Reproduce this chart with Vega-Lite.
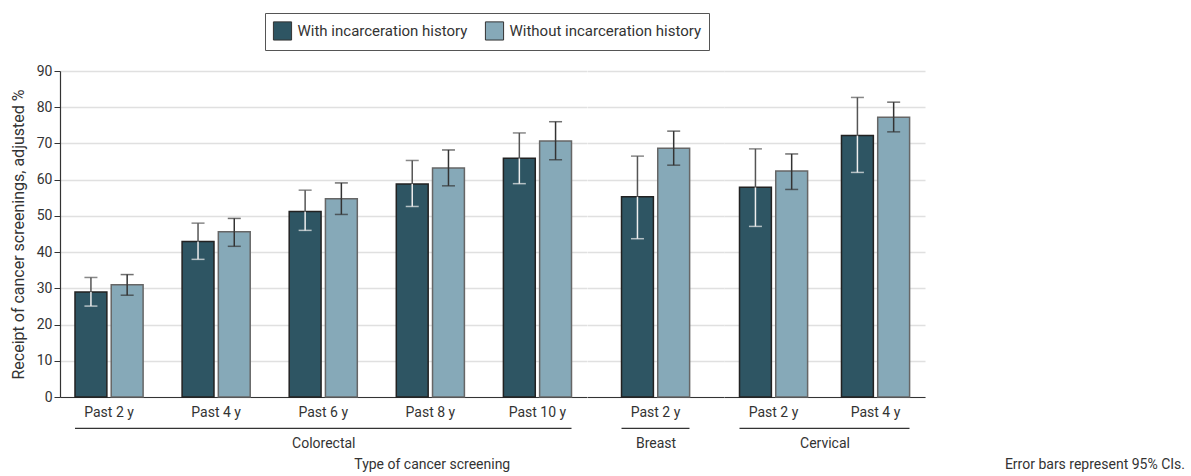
{
  "$schema": "https://vega.github.io/schema/vega-lite/v6.json",
  "padding": {"left": 10, "top": 12, "right": 5, "bottom": 5},
  "datasets": {
    "screen": [
      {"screening": "Colorectal", "period": "Past 2 y", "group": "With incarceration history", "value": 29.0, "lo": 25.1, "hi": 33.0},
      {"screening": "Colorectal", "period": "Past 2 y", "group": "Without incarceration history", "value": 31.0, "lo": 28.1, "hi": 33.8},
      {"screening": "Colorectal", "period": "Past 4 y", "group": "With incarceration history", "value": 42.9, "lo": 38.0, "hi": 48.0},
      {"screening": "Colorectal", "period": "Past 4 y", "group": "Without incarceration history", "value": 45.6, "lo": 41.6, "hi": 49.3},
      {"screening": "Colorectal", "period": "Past 6  y", "group": "With incarceration history", "value": 51.2, "lo": 46.0, "hi": 57.1},
      {"screening": "Colorectal", "period": "Past 6  y", "group": "Without incarceration history", "value": 54.7, "lo": 50.4, "hi": 59.1},
      {"screening": "Colorectal", "period": "Past 8  y", "group": "With incarceration history", "value": 58.8, "lo": 52.6, "hi": 65.3},
      {"screening": "Colorectal", "period": "Past 8  y", "group": "Without incarceration history", "value": 63.2, "lo": 58.3, "hi": 68.2},
      {"screening": "Colorectal", "period": "Past 10 y", "group": "With incarceration history", "value": 65.9, "lo": 58.9, "hi": 72.9},
      {"screening": "Colorectal", "period": "Past 10 y", "group": "Without incarceration history", "value": 70.7, "lo": 65.5, "hi": 76.0},
      {"screening": "Breast", "period": "Past 2 y", "group": "With incarceration history", "value": 55.3, "lo": 43.7, "hi": 66.5},
      {"screening": "Breast", "period": "Past 2 y", "group": "Without incarceration history", "value": 68.7, "lo": 64.0, "hi": 73.4},
      {"screening": "Cervical", "period": "Past 2 y", "group": "With incarceration history", "value": 57.9, "lo": 47.1, "hi": 68.5},
      {"screening": "Cervical", "period": "Past 2 y", "group": "Without incarceration history", "value": 62.4, "lo": 57.3, "hi": 67.1},
      {"screening": "Cervical", "period": "Past 4 y", "group": "With incarceration history", "value": 72.2, "lo": 62.0, "hi": 82.7},
      {"screening": "Cervical", "period": "Past 4 y", "group": "Without incarceration history", "value": 77.2, "lo": 73.2, "hi": 81.4}
    ]
  },
  "data": {"name": "screen"},
  "spacing": 0,
  "bounds": "flush",
  "resolve": {"scale": {"color": "shared", "y": "shared"}},
  "hconcat": [
    {
      "width": 526.5,
      "height": 326,
      "title": {"text": "Type of cancer screening", "orient": "bottom", "anchor": "middle", "dx": 109, "offset": 8},
      "transform": [{"filter": "datum.screening === 'Colorectal'"}],
      "layer": [
        {
          "mark": {"type": "bar", "strokeWidth": 1.5},
          "encoding": {
            "x": {"field": "period", "type": "nominal", "sort": null, "title": "Colorectal", "scale": {"paddingInner": 0.364, "paddingOuter": 0.14}, "axis": {"labelAngle": 0, "ticks": false, "tickSize": 0, "labelPadding": 8, "titlePadding": 17}},
            "xOffset": {"field": "group", "type": "nominal", "scale": {"paddingInner": 0.12, "paddingOuter": 0}},
            "y": {"field": "value", "type": "quantitative", "title": "Receipt of cancer screenings, adjusted %", "scale": {"domain": [0, 90]}, "axis": {"values": [0, 10, 20, 30, 40, 50, 60, 70, 80, 90], "tickSize": 6, "labelPadding": 2, "titlePadding": 10, "titleFontSize": 16, "domain": true, "ticks": true, "grid": true}},
            "color": {"field": "group", "type": "nominal", "scale": {"domain": ["With incarceration history", "Without incarceration history"], "range": ["#2e5563", "#86a9b8"]}, "legend": {"title": null, "orient": "none", "legendX": 205, "legendY": -58, "direction": "horizontal"}},
            "stroke": {"condition": {"test": "datum.group === 'With incarceration history'", "value": "#222222"}, "value": "#666666"}
          }
        },
        {
          "mark": {"type": "rule", "strokeWidth": 1.5},
          "encoding": {
            "x": {"field": "period", "type": "nominal", "sort": null, "title": "Colorectal", "axis": {"labelAngle": 0, "ticks": false, "tickSize": 0, "labelPadding": 8, "titlePadding": 17}},
            "xOffset": {"field": "group", "type": "nominal"},
            "y": {"field": "lo", "type": "quantitative", "title": "Receipt of cancer screenings, adjusted %", "axis": {"values": [0, 10, 20, 30, 40, 50, 60, 70, 80, 90], "tickSize": 6, "labelPadding": 2, "titlePadding": 10, "titleFontSize": 16, "domain": true, "ticks": true, "grid": true}},
            "y2": {"field": "value"},
            "stroke": {"condition": {"test": "datum.group === 'With incarceration history'", "value": "#eeeeee"}, "value": "#333333"}
          }
        },
        {
          "mark": {"type": "rule", "strokeWidth": 1.5},
          "encoding": {
            "x": {"field": "period", "type": "nominal", "sort": null, "title": "Colorectal", "axis": {"labelAngle": 0, "ticks": false, "tickSize": 0, "labelPadding": 8, "titlePadding": 17}},
            "xOffset": {"field": "group", "type": "nominal"},
            "y": {"field": "value", "type": "quantitative", "title": "Receipt of cancer screenings, adjusted %", "axis": {"values": [0, 10, 20, 30, 40, 50, 60, 70, 80, 90], "tickSize": 6, "labelPadding": 2, "titlePadding": 10, "titleFontSize": 16, "domain": true, "ticks": true, "grid": true}},
            "y2": {"field": "hi"},
            "stroke": {"condition": {"test": "datum.group === 'With incarceration history'", "value": "#555555"}, "value": "#333333"}
          }
        },
        {
          "mark": {"type": "tick", "size": 13, "thickness": 1.5},
          "encoding": {
            "x": {"field": "period", "type": "nominal", "sort": null, "title": "Colorectal", "axis": {"labelAngle": 0, "ticks": false, "tickSize": 0, "labelPadding": 8, "titlePadding": 17}},
            "xOffset": {"field": "group", "type": "nominal"},
            "y": {"field": "lo", "type": "quantitative", "title": "Receipt of cancer screenings, adjusted %", "axis": {"values": [0, 10, 20, 30, 40, 50, 60, 70, 80, 90], "tickSize": 6, "labelPadding": 2, "titlePadding": 10, "titleFontSize": 16, "domain": true, "ticks": true, "grid": true}},
            "color": {"condition": {"test": "datum.group === 'With incarceration history'", "value": "#eeeeee"}, "value": "#333333"}
          }
        },
        {
          "mark": {"type": "tick", "size": 13, "thickness": 1.5},
          "encoding": {
            "x": {"field": "period", "type": "nominal", "sort": null, "title": "Colorectal", "axis": {"labelAngle": 0, "ticks": false, "tickSize": 0, "labelPadding": 8, "titlePadding": 17}},
            "xOffset": {"field": "group", "type": "nominal"},
            "y": {"field": "hi", "type": "quantitative", "title": "Receipt of cancer screenings, adjusted %", "axis": {"values": [0, 10, 20, 30, 40, 50, 60, 70, 80, 90], "tickSize": 6, "labelPadding": 2, "titlePadding": 10, "titleFontSize": 16, "domain": true, "ticks": true, "grid": true}},
            "color": {"condition": {"test": "datum.group === 'With incarceration history'", "value": "#555555"}, "value": "#333333"}
          }
        },
        {
          "transform": [{"aggregate": [{"op": "count", "as": "n"}]}],
          "mark": {"type": "rule", "stroke": "#333333", "strokeWidth": 1.2},
          "encoding": {
            "x": {"datum": "Past 2 y", "type": "nominal", "bandPosition": 0, "title": "Colorectal", "axis": {"labelAngle": 0, "ticks": false, "tickSize": 0, "labelPadding": 8, "titlePadding": 17}},
            "x2": {"datum": "Past 10 y", "bandPosition": 1},
            "y": {"datum": -8.64, "type": "quantitative", "title": "Receipt of cancer screenings, adjusted %", "axis": {"values": [0, 10, 20, 30, 40, 50, 60, 70, 80, 90], "tickSize": 6, "labelPadding": 2, "titlePadding": 10, "titleFontSize": 16, "domain": true, "ticks": true, "grid": true}}
          }
        }
      ]
    },
    {
      "width": 137,
      "height": 326,
      "transform": [{"filter": "datum.screening === 'Breast'"}],
      "layer": [
        {
          "mark": {"type": "bar", "strokeWidth": 1.5},
          "encoding": {
            "x": {"field": "period", "type": "nominal", "sort": null, "title": "Breast", "scale": {"paddingInner": 0.364, "paddingOuter": 0.323}, "axis": {"labelAngle": 0, "ticks": false, "tickSize": 0, "labelPadding": 8, "titlePadding": 17}},
            "xOffset": {"field": "group", "type": "nominal", "scale": {"paddingInner": 0.12, "paddingOuter": 0}},
            "y": {"field": "value", "type": "quantitative", "title": null, "scale": {"domain": [0, 90]}, "axis": {"values": [0, 10, 20, 30, 40, 50, 60, 70, 80, 90], "labels": false, "ticks": false, "domain": false, "grid": true}},
            "color": {"field": "group", "type": "nominal", "scale": {"domain": ["With incarceration history", "Without incarceration history"], "range": ["#2e5563", "#86a9b8"]}, "legend": {"title": null, "orient": "none", "legendX": 205, "legendY": -58, "direction": "horizontal"}},
            "stroke": {"condition": {"test": "datum.group === 'With incarceration history'", "value": "#222222"}, "value": "#666666"}
          }
        },
        {
          "mark": {"type": "rule", "strokeWidth": 1.5},
          "encoding": {
            "x": {"field": "period", "type": "nominal", "sort": null, "title": "Breast", "axis": {"labelAngle": 0, "ticks": false, "tickSize": 0, "labelPadding": 8, "titlePadding": 17}},
            "xOffset": {"field": "group", "type": "nominal"},
            "y": {"field": "lo", "type": "quantitative", "title": null, "axis": {"values": [0, 10, 20, 30, 40, 50, 60, 70, 80, 90], "labels": false, "ticks": false, "domain": false, "grid": true}},
            "y2": {"field": "value"},
            "stroke": {"condition": {"test": "datum.group === 'With incarceration history'", "value": "#eeeeee"}, "value": "#333333"}
          }
        },
        {
          "mark": {"type": "rule", "strokeWidth": 1.5},
          "encoding": {
            "x": {"field": "period", "type": "nominal", "sort": null, "title": "Breast", "axis": {"labelAngle": 0, "ticks": false, "tickSize": 0, "labelPadding": 8, "titlePadding": 17}},
            "xOffset": {"field": "group", "type": "nominal"},
            "y": {"field": "value", "type": "quantitative", "title": null, "axis": {"values": [0, 10, 20, 30, 40, 50, 60, 70, 80, 90], "labels": false, "ticks": false, "domain": false, "grid": true}},
            "y2": {"field": "hi"},
            "stroke": {"condition": {"test": "datum.group === 'With incarceration history'", "value": "#555555"}, "value": "#333333"}
          }
        },
        {
          "mark": {"type": "tick", "size": 13, "thickness": 1.5},
          "encoding": {
            "x": {"field": "period", "type": "nominal", "sort": null, "title": "Breast", "axis": {"labelAngle": 0, "ticks": false, "tickSize": 0, "labelPadding": 8, "titlePadding": 17}},
            "xOffset": {"field": "group", "type": "nominal"},
            "y": {"field": "lo", "type": "quantitative", "title": null, "axis": {"values": [0, 10, 20, 30, 40, 50, 60, 70, 80, 90], "labels": false, "ticks": false, "domain": false, "grid": true}},
            "color": {"condition": {"test": "datum.group === 'With incarceration history'", "value": "#eeeeee"}, "value": "#333333"}
          }
        },
        {
          "mark": {"type": "tick", "size": 13, "thickness": 1.5},
          "encoding": {
            "x": {"field": "period", "type": "nominal", "sort": null, "title": "Breast", "axis": {"labelAngle": 0, "ticks": false, "tickSize": 0, "labelPadding": 8, "titlePadding": 17}},
            "xOffset": {"field": "group", "type": "nominal"},
            "y": {"field": "hi", "type": "quantitative", "title": null, "axis": {"values": [0, 10, 20, 30, 40, 50, 60, 70, 80, 90], "labels": false, "ticks": false, "domain": false, "grid": true}},
            "color": {"condition": {"test": "datum.group === 'With incarceration history'", "value": "#555555"}, "value": "#333333"}
          }
        },
        {
          "transform": [{"aggregate": [{"op": "count", "as": "n"}]}],
          "mark": {"type": "rule", "stroke": "#333333", "strokeWidth": 1.2},
          "encoding": {
            "x": {"datum": "Past 2 y", "type": "nominal", "bandPosition": 0, "title": "Breast", "axis": {"labelAngle": 0, "ticks": false, "tickSize": 0, "labelPadding": 8, "titlePadding": 17}},
            "x2": {"datum": "Past 2 y", "bandPosition": 1},
            "y": {"datum": -8.64, "type": "quantitative", "title": null, "axis": {"values": [0, 10, 20, 30, 40, 50, 60, 70, 80, 90], "labels": false, "ticks": false, "domain": false, "grid": true}}
          }
        }
      ]
    },
    {
      "width": 201,
      "height": 326,
      "title": {"text": "Error bars represent 95% CIs.", "orient": "bottom", "anchor": "end", "dx": 260, "offset": 8},
      "transform": [{"filter": "datum.screening === 'Cervical'"}],
      "layer": [
        {
          "mark": {"type": "bar", "strokeWidth": 1.5},
          "encoding": {
            "x": {"field": "period", "type": "nominal", "sort": null, "title": "Cervical", "scale": {"paddingInner": 0.333, "paddingOuter": 0.152}, "axis": {"labelAngle": 0, "ticks": false, "tickSize": 0, "labelPadding": 8, "titlePadding": 17}},
            "xOffset": {"field": "group", "type": "nominal", "scale": {"paddingInner": 0.12, "paddingOuter": 0}},
            "y": {"field": "value", "type": "quantitative", "title": null, "scale": {"domain": [0, 90]}, "axis": {"values": [0, 10, 20, 30, 40, 50, 60, 70, 80, 90], "labels": false, "ticks": false, "domain": false, "grid": true}},
            "color": {"field": "group", "type": "nominal", "scale": {"domain": ["With incarceration history", "Without incarceration history"], "range": ["#2e5563", "#86a9b8"]}, "legend": {"title": null, "orient": "none", "legendX": 205, "legendY": -58, "direction": "horizontal"}},
            "stroke": {"condition": {"test": "datum.group === 'With incarceration history'", "value": "#222222"}, "value": "#666666"}
          }
        },
        {
          "mark": {"type": "rule", "strokeWidth": 1.5},
          "encoding": {
            "x": {"field": "period", "type": "nominal", "sort": null, "title": "Cervical", "axis": {"labelAngle": 0, "ticks": false, "tickSize": 0, "labelPadding": 8, "titlePadding": 17}},
            "xOffset": {"field": "group", "type": "nominal"},
            "y": {"field": "lo", "type": "quantitative", "title": null, "axis": {"values": [0, 10, 20, 30, 40, 50, 60, 70, 80, 90], "labels": false, "ticks": false, "domain": false, "grid": true}},
            "y2": {"field": "value"},
            "stroke": {"condition": {"test": "datum.group === 'With incarceration history'", "value": "#eeeeee"}, "value": "#333333"}
          }
        },
        {
          "mark": {"type": "rule", "strokeWidth": 1.5},
          "encoding": {
            "x": {"field": "period", "type": "nominal", "sort": null, "title": "Cervical", "axis": {"labelAngle": 0, "ticks": false, "tickSize": 0, "labelPadding": 8, "titlePadding": 17}},
            "xOffset": {"field": "group", "type": "nominal"},
            "y": {"field": "value", "type": "quantitative", "title": null, "axis": {"values": [0, 10, 20, 30, 40, 50, 60, 70, 80, 90], "labels": false, "ticks": false, "domain": false, "grid": true}},
            "y2": {"field": "hi"},
            "stroke": {"condition": {"test": "datum.group === 'With incarceration history'", "value": "#555555"}, "value": "#333333"}
          }
        },
        {
          "mark": {"type": "tick", "size": 13, "thickness": 1.5},
          "encoding": {
            "x": {"field": "period", "type": "nominal", "sort": null, "title": "Cervical", "axis": {"labelAngle": 0, "ticks": false, "tickSize": 0, "labelPadding": 8, "titlePadding": 17}},
            "xOffset": {"field": "group", "type": "nominal"},
            "y": {"field": "lo", "type": "quantitative", "title": null, "axis": {"values": [0, 10, 20, 30, 40, 50, 60, 70, 80, 90], "labels": false, "ticks": false, "domain": false, "grid": true}},
            "color": {"condition": {"test": "datum.group === 'With incarceration history'", "value": "#eeeeee"}, "value": "#333333"}
          }
        },
        {
          "mark": {"type": "tick", "size": 13, "thickness": 1.5},
          "encoding": {
            "x": {"field": "period", "type": "nominal", "sort": null, "title": "Cervical", "axis": {"labelAngle": 0, "ticks": false, "tickSize": 0, "labelPadding": 8, "titlePadding": 17}},
            "xOffset": {"field": "group", "type": "nominal"},
            "y": {"field": "hi", "type": "quantitative", "title": null, "axis": {"values": [0, 10, 20, 30, 40, 50, 60, 70, 80, 90], "labels": false, "ticks": false, "domain": false, "grid": true}},
            "color": {"condition": {"test": "datum.group === 'With incarceration history'", "value": "#555555"}, "value": "#333333"}
          }
        },
        {
          "transform": [{"aggregate": [{"op": "count", "as": "n"}]}],
          "mark": {"type": "rule", "stroke": "#333333", "strokeWidth": 1.2},
          "encoding": {
            "x": {"datum": "Past 2 y", "type": "nominal", "bandPosition": 0, "title": "Cervical", "axis": {"labelAngle": 0, "ticks": false, "tickSize": 0, "labelPadding": 8, "titlePadding": 17}},
            "x2": {"datum": "Past 4 y", "bandPosition": 1},
            "y": {"datum": -8.64, "type": "quantitative", "title": null, "axis": {"values": [0, 10, 20, 30, 40, 50, 60, 70, 80, 90], "labels": false, "ticks": false, "domain": false, "grid": true}}
          }
        }
      ]
    }
  ],
  "config": {
    "font": "Roboto",
    "view": {"stroke": null},
    "axis": {"labelFontSize": 14, "titleFontSize": 14, "titleFontWeight": "normal", "labelColor": "#333333", "titleColor": "#333333", "domainColor": "#333333", "domainWidth": 1.2, "tickColor": "#333333", "gridColor": "#e0e0e0", "gridWidth": 1.5},
    "axisX": {"grid": false},
    "legend": {"labelFontSize": 15, "labelColor": "#333333", "symbolType": "square", "symbolSize": 330, "symbolStrokeColor": "#333333", "symbolStrokeWidth": 1, "labelOffset": 5, "columnPadding": 15, "padding": 7.5, "strokeColor": "#555555", "fillColor": "#ffffff", "labelLimit": 300},
    "title": {"fontSize": 14, "fontWeight": "normal", "color": "#333333"}
  }
}
